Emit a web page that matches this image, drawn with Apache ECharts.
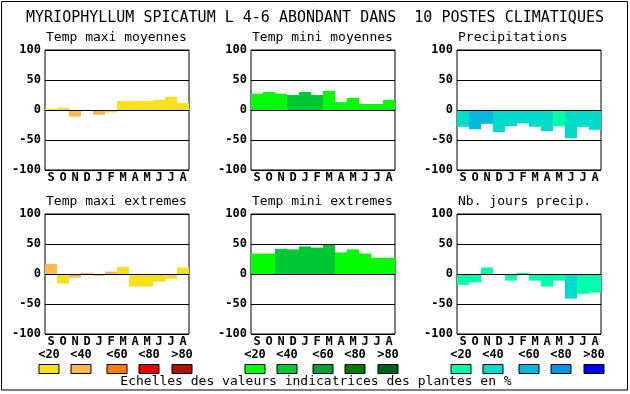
<!DOCTYPE html>
<html>
<head>
<meta charset="utf-8">
<script src="https://cdn.jsdelivr.net/npm/echarts@6/dist/echarts.min.js"></script>
<style>
html,body{margin:0;padding:0;background:#fff;}
#c{width:630px;height:394px;}
</style>
</head>
<body>
<div id="c"></div>
<script>
var months = ['S','O','N','D','J','F','M','A','M','J','J','A'];
var yTicks = [-100, -50, 0, 50, 100];
var scaleLabels = ['<20','<40','<60','<80','>80'];

var title = 'MYRIOPHYLLUM SPICATUM L 4-6 ABONDANT DANS  10 POSTES CLIMATIQUES';
var footer = 'Echelles des valeurs indicatrices des plantes en %';

var panelTitles = ['Temp maxi moyennes','Temp mini moyennes','Precipitations',
                   'Temp maxi extremes','Temp mini extremes','Nb. jours precip.'];

var tempPalette = ['#f8e11c','#ffb84c','#ff8000','#e80000','#b01000'];
var greenPalette = ['#00ff00','#00c832','#00a030','#007a00','#006020'];
var bluePalette = ['#00ffaa','#00dccc','#00b8dc','#0096e6','#0000ff'];

// values (percent) and class index into palette (0:<20 ... 4:>80)
var tmaxMoyValues = [2, 4, -11, 0, -8, -4, 15, 15, 15, 17, 22, 12];
var tmaxMoyClass  = [0, 0, 1, 0, 1, 0, 0, 0, 0, 0, 0, 0];

var tminMoyValues = [27, 30, 27, 25, 30, 25, 32, 13, 20, 10, 10, 17];
var tminMoyClass  = [0, 0, 0, 1, 1, 1, 0, 0, 0, 0, 0, 0];

var precValues = [-28, -32, -23, -37, -27, -22, -28, -35, -27, -47, -28, -33];
var precClass  = [1, 2, 2, 1, 1, 1, 1, 1, 0, 1, 1, 1];

var tmaxExtValues = [17, -16, -6, 2, -3, 4, 12, -21, -21, -13, -8, 11];
var tmaxExtClass  = [1, 0, 1, 1, 1, 1, 0, 0, 0, 0, 0, 0];

var tminExtValues = [34, 34, 42, 41, 46, 44, 49, 36, 41, 34, 27, 27];
var tminExtClass  = [0, 0, 1, 1, 1, 1, 1, 0, 0, 0, 0, 0];

var joursValues = [-18, -14, 11, 0, -11, 2, -11, -21, -11, -41, -33, -31];
var joursClass  = [0, 0, 0, 0, 0, 0, 0, 0, 0, 1, 0, 0];

var panels = [
  {v: tmaxMoyValues, c: tmaxMoyClass, p: tempPalette},
  {v: tminMoyValues, c: tminMoyClass, p: greenPalette},
  {v: precValues, c: precClass, p: bluePalette},
  {v: tmaxExtValues, c: tmaxExtClass, p: tempPalette},
  {v: tminExtValues, c: tminExtClass, p: greenPalette},
  {v: joursValues, c: joursClass, p: bluePalette}
];
var palettes = [tempPalette, greenPalette, bluePalette];

var colLefts = [45, 251, 457];
var rowTops = [50, 214];
var gw = 144, gh = 120;

var MONO = '"DejaVu Sans Mono", "Liberation Mono", monospace';

var grids = [], xAxes = [], yAxes = [], series = [], graphics = [];

panels.forEach(function (pn, i) {
  var col = i % 3, row = Math.floor(i / 3);
  var left = colLefts[col], top = rowTops[row];
  grids.push({
    left: left, top: top, width: gw, height: gh,
    show: true, borderColor: '#000', borderWidth: 1, backgroundColor: '#fff'
  });
  xAxes.push({
    type: 'category', gridIndex: i, data: months,
    axisLine: {show: false}, axisTick: {show: false},
    axisLabel: {color: '#000', fontFamily: MONO, fontWeight: 'bold', fontSize: 12, margin: 2, interval: 0},
    splitLine: {show: false}
  });
  yAxes.push({
    type: 'value', gridIndex: i, min: yTicks[0], max: yTicks[yTicks.length - 1], interval: 50,
    z: 5,
    axisLine: {show: false}, axisTick: {show: false},
    axisLabel: {color: '#000', fontFamily: MONO, fontWeight: 'bold', fontSize: 12, margin: 4},
    splitLine: {show: true, lineStyle: {color: '#000', width: 1}}
  });
  series.push({
    type: 'bar', xAxisIndex: i, yAxisIndex: i,
    barWidth: '100%', barCategoryGap: 0,
    data: pn.v.map(function (val, k) {
      return {value: val, itemStyle: {color: pn.p[pn.c[k]]}};
    }),
    silent: true, animation: false
  });
  graphics.push({
    type: 'text', left: left + 1, top: top - 19,
    style: {text: panelTitles[i], fill: '#000', font: '13px ' + MONO}
  });
});

// scale legends
var boxOffsets = [-6, 26, 62, 94, 127];
palettes.forEach(function (pal, col) {
  var base = colLefts[col];
  pal.forEach(function (color, k) {
    var x = base + boxOffsets[k];
    graphics.push({
      type: 'rect', shape: {x: x, y: 364.5, width: 20, height: 9},
      style: {fill: color, stroke: '#000', lineWidth: 1}
    });
    graphics.push({
      type: 'text', x: x + 10, y: 354.5,
      style: {text: scaleLabels[k], fill: '#000', font: 'bold 12px ' + MONO, textAlign: 'center', textVerticalAlign: 'middle'}
    });
  });
});

graphics.push({
  type: 'text', x: 315, y: 18,
  style: {text: title, fill: '#000', font: '15px ' + MONO, textAlign: 'center', textVerticalAlign: 'middle'}
});
graphics.push({
  type: 'text', x: 316, y: 382,
  style: {text: footer, fill: '#000', font: '13px ' + MONO, textAlign: 'center', textVerticalAlign: 'middle'}
});
graphics.push({
  type: 'rect', shape: {x: 1.5, y: 1.5, width: 626, height: 388.5},
  style: {fill: 'none', stroke: '#000', lineWidth: 1}, z: -1
});

var chart = echarts.init(document.getElementById('c'), null, {renderer: 'canvas'});
chart.setOption({
  animation: false,
  backgroundColor: '#fff',
  grid: grids, xAxis: xAxes, yAxis: yAxes, series: series,
  graphic: graphics
});
</script>
</body>
</html>
